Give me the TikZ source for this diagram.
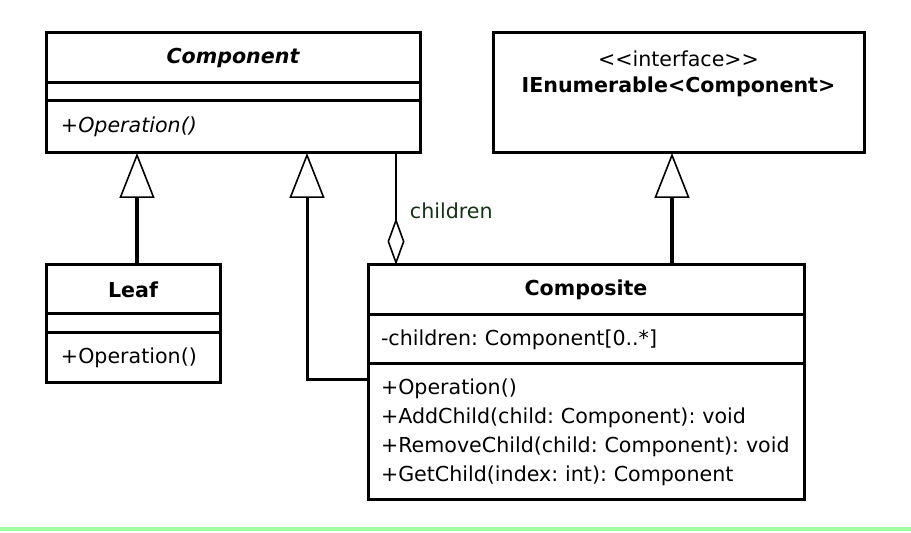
\documentclass[tikz,border=0pt]{standalone}
\usepackage{fontspec}
\setmainfont{DejaVu Sans}
\usetikzlibrary{arrows.meta,positioning,calc}
\definecolor{lblc}{HTML}{143214}
\definecolor{rulec}{HTML}{A0FFA0}
\newcommand{\umlfont}{\fontsize{10.3}{14.5}\selectfont\frenchspacing}
\tikzset{
  box/.style={rectangle, draw=black, line width=1.5pt, outer sep=0pt, inner xsep=6.5pt, inner ysep=0pt,
              font=\umlfont},
  head/.style={box, align=center, font=\umlfont\bfseries},
  body/.style={box, align=left},
  gen/.style={-{Triangle[open, length=22.5pt, width=17.5pt, line width=0.8pt]}, line width=1.9pt},
  agg/.style={-{Diamond[open, length=23.5pt, width=8.5pt, line width=0.8pt]}, line width=1.3pt},
}

\begin{document}
\begin{tikzpicture}[x=0.5pt, y=0.5pt]
  \useasboundingbox (0,0) rectangle (911,-533);

  % Component
  \node[head, font=\umlfont\bfseries\itshape, anchor=north west, minimum width=187pt, minimum height=25pt]
    (comp) at (46,-33) {Component};
  \node[body, minimum width=187pt, minimum height=9pt, below=0pt of comp] (compattr) {};
  \node[body, minimum width=187pt, minimum height=26pt, text width=172pt, below=0pt of compattr]
    (compops) {\itshape +Operation()};

  % interface
  \node[box, anchor=north west, minimum width=185.5pt, minimum height=60pt] (iface) at (493,-33) {};
  \node[align=center, inner sep=0pt, font=\umlfont, below=8.5pt of iface.north] (ifacetxt)
    {<{}<interface>{}>\\[-1.5pt]\textbf{IEnumerable<Component>}};

  % Leaf
  \node[head, anchor=north west, minimum width=87pt, minimum height=24.5pt] (leaf) at (46,-265) {Leaf};
  \node[body, minimum width=87pt, minimum height=9.5pt, below=0pt of leaf] (leafattr) {};
  \node[body, minimum width=87pt, minimum height=25pt, text width=72pt, below=0pt of leafattr]
    (leafops) {+Operation()};

  % Composite
  \node[head, anchor=north west, minimum width=218pt, minimum height=25pt] (cmp) at (368,-265) {Composite};
  \node[body, minimum width=218pt, minimum height=24.5pt, text width=205pt, below=0pt of cmp]
    (cmpattr) {-children: Component[0..*]};
  \node[body, minimum width=218pt, minimum height=68pt, text width=205pt, below=0pt of cmpattr]
    (cmpops) {+Operation()\\
              +AddChild(child: Component): void\\
              +RemoveChild(child: Component): void\\
              +GetChild(index: int): Component};

  % connectors
  \draw[gen] ([xshift=2pt]leaf.north) -- ([xshift=2pt]leaf.north |- compops.south);
  \draw[gen, line width=1.5pt] ([yshift=26pt]cmpops.west) -| ([xshift=130.5pt]compops.south west);
  \draw[gen] ([xshift=-3.25pt]iface.south |- cmp.north) -- ([xshift=-3.25pt]iface.south);
  \draw[agg] ([xshift=175pt]compops.south west) -- ([xshift=175pt]compops.south west |- cmp.north)
    node[pos=0.52, right, xshift=3pt, text=lblc, font=\umlfont] (chl) {children};

  % green rule
  \draw[rulec, line width=2pt] (0,-529.5) -- (911,-529.5);
\end{tikzpicture}
\end{document}
